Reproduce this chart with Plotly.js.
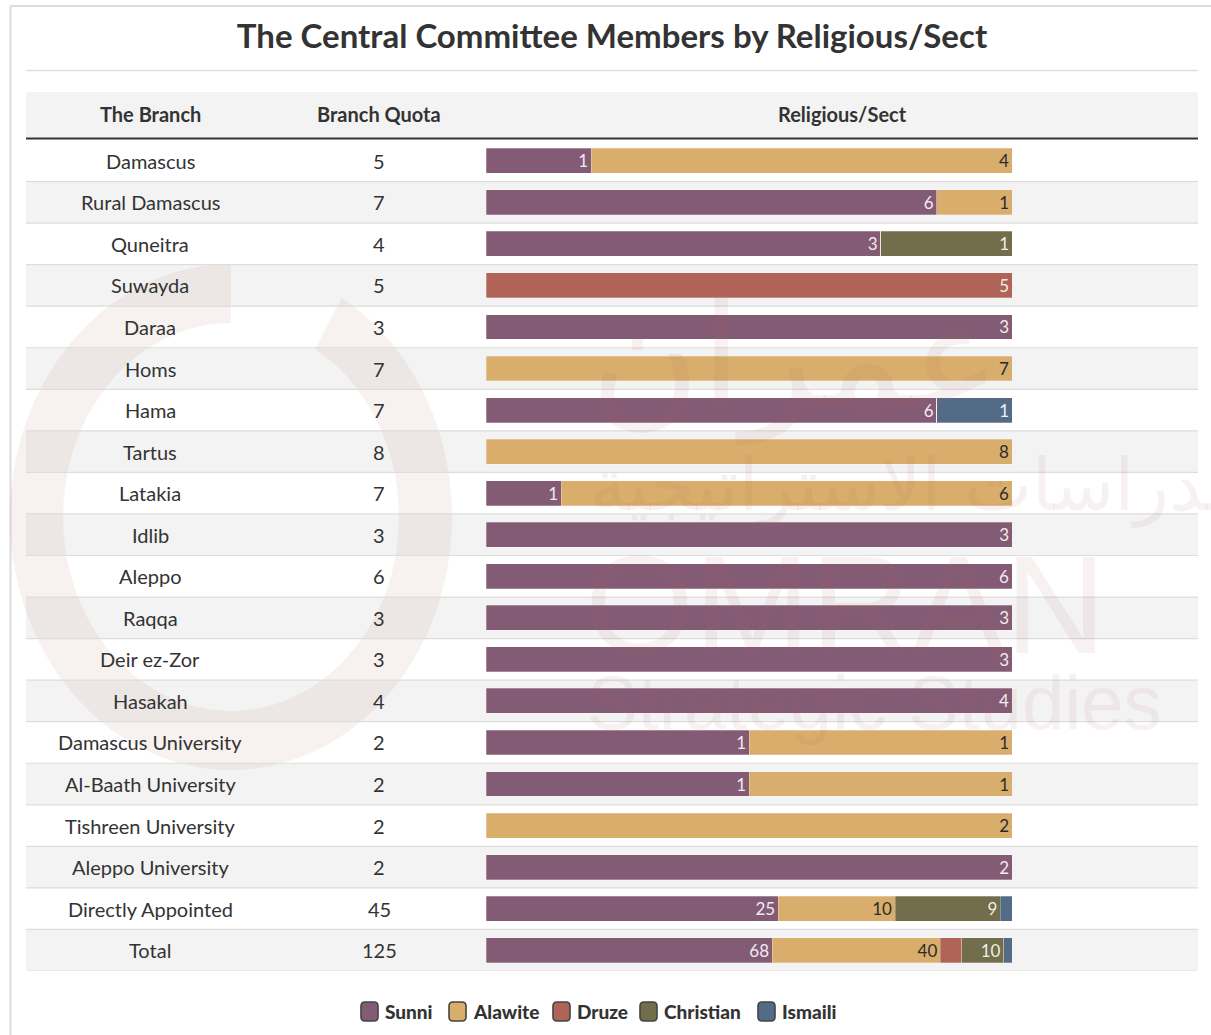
<!DOCTYPE html>
<html>
<head>
<meta charset="utf-8">
<script src="https://cdn.plot.ly/plotly-3.0.1.min.js"></script>
<style>html,body{margin:0;padding:0;background:#fff;}#chart{width:1211px;height:1035px;}</style>
</head>
<body>
<div id="chart"></div>
<script>
// ---------- DATA ----------
const branches = ["Damascus","Rural Damascus","Quneitra","Suwayda","Daraa","Homs","Hama","Tartus","Latakia","Idlib","Aleppo","Raqqa","Deir ez-Zor","Hasakah","Damascus University","Al-Baath University","Tishreen University","Aleppo University","Directly Appointed","Total"];
const quota    = [5,7,4,5,3,7,7,8,7,3,6,3,3,4,2,2,2,2,45,125];
const sunni     = [1,6,3,0,3,0,6,0,1,3,6,3,3,4,1,1,0,2,25,68];
const alawite   = [4,1,0,0,0,7,0,8,6,0,0,0,0,0,1,1,2,0,10,40];
const druze     = [0,0,0,5,0,0,0,0,0,0,0,0,0,0,0,0,0,0,0,5];
const christian = [0,0,1,0,0,0,0,0,0,0,0,0,0,0,0,0,0,0,9,10];
const ismaili   = [0,0,0,0,0,0,1,0,0,0,0,0,0,0,0,0,0,0,1,2];
const sectNames = ["Sunni","Alawite","Druze","Christian","Ismaili"];
const titleText = "The Central Committee Members by Religious/Sect";
const headers = ["The Branch","Branch Quota","Religious/Sect"];

// ---------- STYLE ----------
const W = 1211, H = 1035;
const px = x => x / W;
const py = y => 1 - y / H;
const FONT = "Lato, 'Open Sans', sans-serif";
const TXT = "#333333";
const sectColors = ["#845b75","#d9ad6b","#b06457","#726d4a","#546b87"];
const labelColors = ["#f1eaf0","#2b2b2b","#f3ece8","#efefe6","#eef2f6"];
const sectValues = [sunni, alawite, druze, christian, ismaili];

const traces = [];
sectValues.forEach((vals, k) => {
  const share = vals.map((v, i) => v / quota[i]);
  traces.push({
    type: "bar", orientation: "h",
    x: share, y: branches,
    name: sectNames[k],
    marker: {color: sectColors[k], line: {width: 0.6, color: "rgba(255,255,255,0.45)"}},
    text: vals.map((v, i) => (v > 0 && v / quota[i] >= 0.05) ? String(v) : ""),
    textposition: "inside", insidetextanchor: "end", textangle: 0,
    constraintext: "none",
    textfont: {family: FONT, size: 17, color: labelColors[k]},
    hoverinfo: "skip", showlegend: false, width: 0.6
  });
});

const shapes = [];
// card frame
shapes.push({type:"line", xref:"paper", yref:"paper", x0:px(10.5), x1:px(10.5), y0:py(6), y1:py(1035), line:{color:"#dcdcdc", width:2}, layer:"below"});
shapes.push({type:"line", xref:"paper", yref:"paper", x0:px(10), x1:px(1211), y0:py(6), y1:py(6), line:{color:"#dcdcdc", width:2}, layer:"below"});
// title rule
shapes.push({type:"line", xref:"paper", yref:"paper", x0:px(26), x1:px(1198), y0:py(70.5), y1:py(70.5), line:{color:"#dedede", width:1.5}, layer:"below"});
// header band
shapes.push({type:"rect", xref:"paper", yref:"paper", x0:px(26), x1:px(1198), y0:py(137), y1:py(92), fillcolor:"#f3f3f3", line:{width:0}, layer:"below"});
// row bands
branches.forEach((b, i) => {
  if (i % 2 === 1) shapes.push({type:"rect", xref:"paper", yref:"y", x0:px(26), x1:px(1198), y0:i-0.5, y1:i+0.5, fillcolor:"#f3f3f3", line:{width:0}, layer:"below"});
});
// watermark ring (C shape)
(function(){
  const cx = 231, cy = 517, rxo = 221, ryo = 253, rxi = 168, ryi = 194;
  const pts = [];
  const a0 = 90, a1 = 420, n = 90;
  for (let s = 0; s <= n; s++) { const a = (a0 + (a1 - a0) * s / n) * Math.PI / 180; pts.push([cx + rxo * Math.cos(a), cy - ryo * Math.sin(a)]); }
  for (let s = n; s >= 0; s--) { const a = (a0 + (a1 - a0) * s / n) * Math.PI / 180; pts.push([cx + rxi * Math.cos(a), cy - ryi * Math.sin(a)]); }
  const path = pts.map((p, j) => (j ? "L" : "M") + px(p[0]).toFixed(5) + "," + py(p[1]).toFixed(5)).join(" ") + " Z";
  shapes.push({type:"path", xref:"paper", yref:"paper", path: path, fillcolor:"rgba(175,125,110,0.10)", line:{width:0}, layer:"below"});
})();
// row separators
branches.forEach((b, i) => {
  shapes.push({type:"line", xref:"paper", yref:"y", x0:px(26), x1:px(1198), y0:i+0.5, y1:i+0.5, line:{color:"#dddddd", width:1.2}, layer:"below"});
});
// header bottom rule
shapes.push({type:"line", xref:"paper", yref:"paper", x0:px(26), x1:px(1198), y0:py(138.5), y1:py(138.5), line:{color:"#333333", width:2.2}, layer:"above"});

const annotations = [];
// headers
const headerX = [150, 379, 842];
headers.forEach((h, k) => annotations.push({xref:"paper", yref:"paper", x:px(headerX[k]), y:py(114), text:"<b>" + h + "</b>", showarrow:false, xanchor:"center", yanchor:"middle", font:{family:FONT, size:20, color:TXT}}));
// table text
branches.forEach((b, i) => {
  annotations.push({xref:"paper", yref:"y", x:px(150), y:b, text:b, showarrow:false, xanchor:"center", yanchor:"middle", font:{family:FONT, size:20, color:TXT}});
  annotations.push({xref:"paper", yref:"y", x:px(379), y:b, text:String(quota[i]), showarrow:false, xanchor:"center", yanchor:"middle", font:{family:FONT, size:20, color:TXT}});
});
// watermark texts
const wm = "rgba(170,110,95,0.09)";
annotations.push({xref:"paper", yref:"paper", x:px(588), y:py(358), text:"عمران", showarrow:false, xanchor:"left", yanchor:"middle", font:{family:"DejaVu Sans", size:150, color:wm}});
annotations.push({xref:"paper", yref:"paper", x:px(588), y:py(486), text:"للدراسات الاستراتيجية", showarrow:false, xanchor:"left", yanchor:"middle", font:{family:"DejaVu Sans", size:72, color:wm}});
annotations.push({xref:"paper", yref:"paper", x:px(583), y:py(604), text:"OMRAN", showarrow:false, xanchor:"left", yanchor:"middle", font:{family:"Liberation Sans", size:140, color:wm}});
annotations.push({xref:"paper", yref:"paper", x:px(585), y:py(702), text:"Strategic Studies", showarrow:false, xanchor:"left", yanchor:"middle", font:{family:"Liberation Sans", size:76, color:wm}});

// manual legend (rounded swatches)
const legX = [361, 449, 553, 640, 758];
const legY0 = 1002, legY1 = 1021, legW = 17, rr = 4;
function rounded(x0, y0, x1, y1, r) {
  const X = v => px(v).toFixed(5), Y = v => py(v).toFixed(5);
  return "M" + X(x0 + r) + "," + Y(y0) + " L" + X(x1 - r) + "," + Y(y0) + " Q" + X(x1) + "," + Y(y0) + " " + X(x1) + "," + Y(y0 + r) +
    " L" + X(x1) + "," + Y(y1 - r) + " Q" + X(x1) + "," + Y(y1) + " " + X(x1 - r) + "," + Y(y1) +
    " L" + X(x0 + r) + "," + Y(y1) + " Q" + X(x0) + "," + Y(y1) + " " + X(x0) + "," + Y(y1 - r) +
    " L" + X(x0) + "," + Y(y0 + r) + " Q" + X(x0) + "," + Y(y0) + " " + X(x0 + r) + "," + Y(y0) + " Z";
}
sectNames.forEach((n, k) => {
  shapes.push({type:"path", xref:"paper", yref:"paper", path: rounded(legX[k], legY0, legX[k] + legW, legY1, rr), fillcolor: sectColors[k], line:{color:"#444444", width:1.6}, layer:"above"});
  annotations.push({xref:"paper", yref:"paper", x:px(legX[k] + legW + 5), y:py(1011.5), text:n, showarrow:false, xanchor:"left", yanchor:"middle", font:{family:FONT, size:19, color:TXT, weight:900}});
});

const layout = {
  width: W, height: H,
  margin: {l:0, r:0, t:0, b:0},
  paper_bgcolor: "#ffffff", plot_bgcolor: "rgba(0,0,0,0)",
  barmode: "stack", bargap: 0.4,
  title: {text: "<b>" + titleText + "</b>", xref:"paper", x: px(612), xanchor:"center", y: py(36), yanchor:"middle", font:{family:FONT, size:33, color:TXT}},
  xaxis: {domain:[px(486), px(1012)], range:[0, 1], showgrid:false, zeroline:false, showticklabels:false, ticks:"", fixedrange:true},
  yaxis: {domain:[py(971), py(140)], type:"category", categoryorder:"array", categoryarray: branches, range:[branches.length - 0.5, -0.5], showgrid:false, zeroline:false, showticklabels:false, ticks:"", fixedrange:true},
  showlegend: false,
  shapes: shapes, annotations: annotations,
  hovermode: false
};
Plotly.newPlot("chart", traces, layout, {displayModeBar:false, staticPlot:true});
</script>
</body>
</html>
